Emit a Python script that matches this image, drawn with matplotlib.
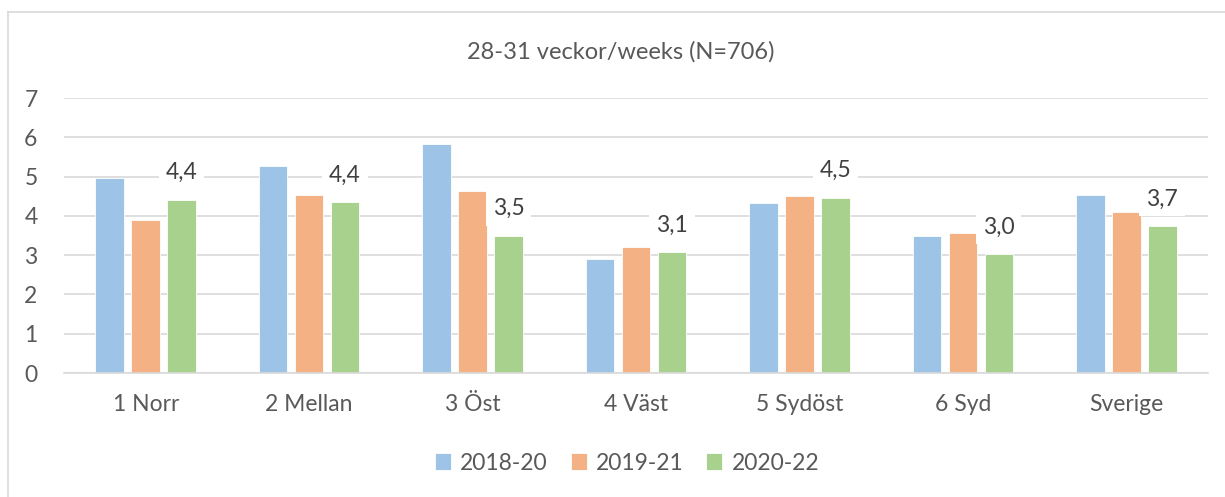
import matplotlib
matplotlib.use("Agg")
import matplotlib.pyplot as plt
import numpy as np

categories = ["1 Norr", "2 Mellan", "3 Öst", "4 Väst", "5 Sydöst", "6 Syd", "Sverige"]
series_names = ["2018-20", "2019-21", "2020-22"]
v2018_20 = [4.96, 5.27, 5.84, 2.90, 4.34, 3.50, 4.53]
v2019_21 = [3.90, 4.52, 4.63, 3.21, 4.51, 3.56, 4.10]
v2020_22 = [4.41, 4.35, 3.49, 3.08, 4.46, 3.03, 3.74]
labels_2020_22 = ["4,4", "4,4", "3,5", "3,1", "4,5", "3,0", "3,7"]
title = "28-31 veckor/weeks (N=706)"
colors = ["#9DC3E6", "#F4B183", "#A9D18E"]

plt.rcParams['font.family'] = ['Lato', 'DejaVu Sans']
W, H = 1225, 497
FS = 16.5
fig = plt.figure(figsize=(W / 100, H / 100), dpi=100)
ax = fig.add_axes([64 / W, (H - 373) / H, (1208 - 64) / W, 275 / H])

# outer chart border (left and top visible)
fig.add_artist(plt.Line2D([8 / W, 8 / W], [0, (H - 12) / H], color="#D9D9D9", lw=1.2, transform=fig.transFigure))
fig.add_artist(plt.Line2D([8 / W, 1], [(H - 12) / H, (H - 12) / H], color="#D9D9D9", lw=1.2, transform=fig.transFigure))

x = np.arange(len(categories))
step = 0.22
width = 0.175
for i, (vals, c, name) in enumerate(zip([v2018_20, v2019_21, v2020_22], colors, series_names)):
    ax.bar(x + (i - 1) * step, vals, width, color=c, label=name, zorder=2,
           edgecolor="white", linewidth=0.6)

for xi, v, lab in zip(x, v2020_22, labels_2020_22):
    ax.annotate(lab, (xi + step, v), xytext=(0, 19.5), textcoords="offset points",
                ha="center", va="center", fontsize=FS, color="#404040", zorder=5,
                bbox=dict(boxstyle="square,pad=0.3", fc="white", ec="none"))

ax.set_ylim(0, 7)
ax.set_xlim(-0.5, len(categories) - 0.5)
ax.set_yticks(range(0, 8))
ax.set_xticks(x)
ax.set_xticklabels(categories)
ax.yaxis.grid(True, color="#D9D9D9", lw=1.2, zorder=0)
ax.set_axisbelow(True)
for s in ["top", "right", "left"]:
    ax.spines[s].set_visible(False)
ax.spines["bottom"].set_color("#D9D9D9")
ax.spines["bottom"].set_linewidth(1.2)
ax.tick_params(axis="both", length=0, labelsize=FS, labelcolor="#595959")
ax.tick_params(axis="y", pad=19)
ax.tick_params(axis="x", pad=15)

fig.text(621 / W, 1 - 52 / H, title, ha="center", va="center", fontsize=FS + 0.5, color="#595959")

fig.legend(loc="center", bbox_to_anchor=(627 / W, 1 - 463 / H), ncol=3, frameon=False,
           fontsize=FS, labelcolor="#595959", handlelength=0.7, handleheight=0.7,
           handletextpad=0.4, columnspacing=1.0)

fig.savefig("out.png", dpi=100, facecolor="white")
